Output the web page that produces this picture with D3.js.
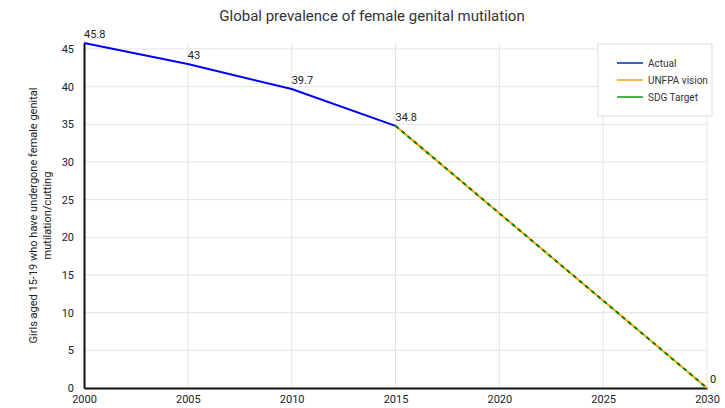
<!DOCTYPE html>
<html>
<head>
<meta charset="utf-8">
<script src="https://cdn.jsdelivr.net/npm/d3@7"></script>
<style>
  body { margin: 0; background: #fff; }
  svg { font-family: Roboto, "Liberation Sans", sans-serif; }
</style>
</head>
<body>
<svg width="725" height="408"></svg>
<script>
var years = [2000, 2005, 2010, 2015];
var actual = [45.8, 43, 39.7, 34.8];
var targetYears = [2015, 2030];
var unfpa = [34.8, 0];
var sdg = [34.8, 0];
var xTicks = [2000, 2005, 2010, 2015, 2020, 2025, 2030];
var yTicks = [0, 5, 10, 15, 20, 25, 30, 35, 40, 45];
var legendNames = ['Actual', 'UNFPA vision', 'SDG Target'];
var legendColors = ['#3366cc', '#ffb74d', '#4caf50'];

var margin = {top: 43, left: 84, right: 18, bottom: 20};
var width = 725, height = 408;

var x = d3.scaleLinear()
    .domain([2000, 2030])
    .range([margin.left, width - margin.right]);

var y = d3.scaleLinear()
    .domain([0, 45.8])
    .range([height - margin.bottom, margin.top]);

const svg = d3.select('svg');

// grid
svg.append('g')
    .selectAll('line')
    .data(yTicks.slice(1))
    .join('line')
    .attr('x1', x(2000)).attr('x2', x(2030))
    .attr('y1', d => y(d)).attr('y2', d => y(d))
    .attr('stroke', '#e4e4e4');

svg.append('g')
    .selectAll('line')
    .data(xTicks.slice(1))
    .join('line')
    .attr('x1', d => x(d)).attr('x2', d => x(d))
    .attr('y1', y(0)).attr('y2', y(45.8))
    .attr('stroke', '#e4e4e4');

// axes
const xAxis = d3.axisBottom(x).tickValues(xTicks).tickFormat(d3.format('d')).tickSize(0).tickPadding(7);
const yAxis = d3.axisLeft(y).tickValues(yTicks).tickSize(0).tickPadding(10);

svg.append('g')
    .attr('transform', `translate(0,${y(0)})`)
    .call(xAxis)
    .call(g => g.select('.domain').attr('stroke', '#111').attr('stroke-width', 2))
    .selectAll('text').attr('font-size', 11).attr('fill', '#222').attr('font-family', 'Roboto');

svg.append('g')
    .attr('transform', `translate(${x(2000)},0)`)
    .call(yAxis)
    .call(g => g.select('.domain').attr('stroke', '#111').attr('stroke-width', 2))
    .selectAll('text').attr('font-size', 11).attr('fill', '#222').attr('font-family', 'Roboto');

// lines
const line = d3.line().x(d => x(d[0])).y(d => y(d[1]));

svg.append('path')
    .datum(d3.zip(years, actual))
    .attr('d', line)
    .attr('fill', 'none')
    .attr('stroke', '#0000ff')
    .attr('stroke-width', 2);

svg.append('path')
    .datum(d3.zip(targetYears, unfpa))
    .attr('d', line)
    .attr('fill', 'none')
    .attr('stroke', '#ffa500')
    .attr('stroke-width', 2);

svg.append('path')
    .datum(d3.zip(targetYears, sdg))
    .attr('d', line)
    .attr('fill', 'none')
    .attr('stroke', '#008000')
    .attr('stroke-width', 2)
    .attr('stroke-dasharray', '4,4');

// value labels
svg.append('g')
    .selectAll('text')
    .data(d3.zip(years, actual))
    .join('text')
    .attr('x', d => x(d[0]))
    .attr('y', d => y(d[1]) - 5)
    .attr('font-size', 11)
    .attr('fill', '#222')
    .text(d => d[1]);

svg.append('text')
    .attr('x', x(2030) + 3)
    .attr('y', y(sdg[1]) - 5)
    .attr('font-size', 11)
    .attr('fill', '#222')
    .text(sdg[1]);

// title
svg.append('text')
    .attr('x', 372)
    .attr('y', 21)
    .attr('text-anchor', 'middle')
    .attr('font-size', 15)
    .attr('fill', '#333')
    .text('Global prevalence of female genital mutilation');

// y label
const yl = svg.append('text')
    .attr('transform', `translate(40,${(y(0) + y(45.8)) / 2}) rotate(-90)`)
    .attr('text-anchor', 'middle')
    .attr('font-size', 11)
    .attr('fill', '#222');
yl.append('tspan').attr('x', 0).attr('dy', '-0.25em').text('Girls aged 15-19 who have undergone female genital');
yl.append('tspan').attr('x', 0).attr('dy', '1.25em').text('mutilation/cutting');

// legend
const lg = svg.append('g').attr('transform', 'translate(598,44)');
lg.append('rect')
    .attr('width', 114).attr('height', 72)
    .attr('fill', '#fff')
    .attr('stroke', '#ddd');
const item = lg.selectAll('g.item')
    .data(legendNames)
    .join('g')
    .attr('class', 'item')
    .attr('transform', (d, i) => `translate(0,${19 + i * 17})`);
item.append('line')
    .attr('x1', 19).attr('x2', 45)
    .attr('stroke', (d, i) => legendColors[i])
    .attr('stroke-width', 2);
item.append('text')
    .attr('x', 50)
    .attr('dy', '0.35em')
    .attr('font-size', 10)
    .attr('fill', '#333')
    .text(d => d);
</script>
</body>
</html>
